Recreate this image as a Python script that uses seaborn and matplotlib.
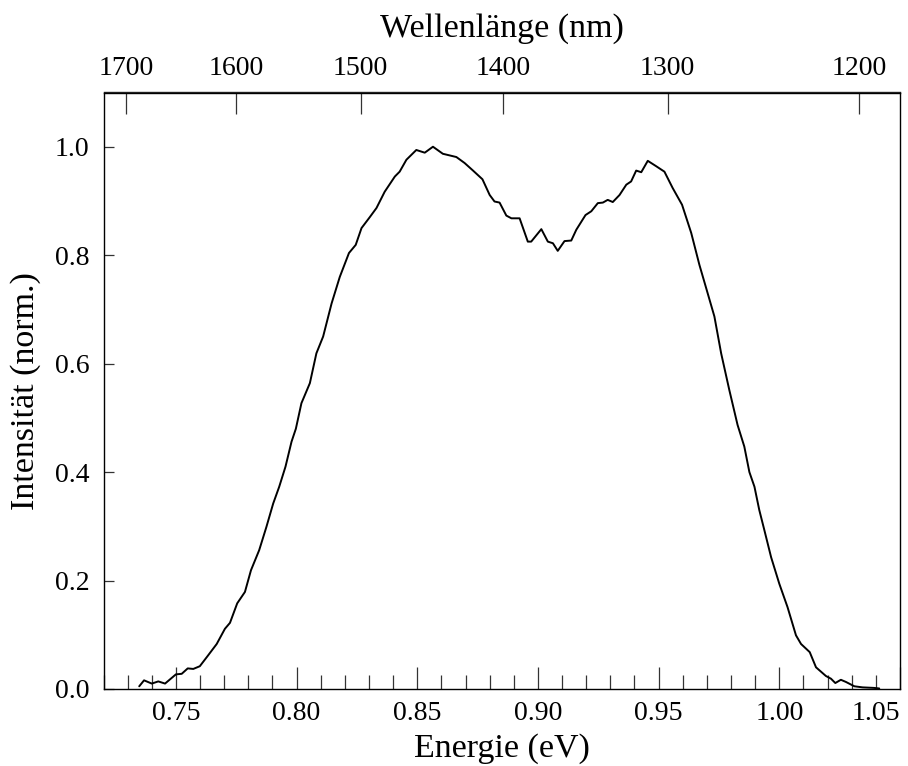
import numpy as np
import pandas as pd
import matplotlib
matplotlib.use("Agg")
import matplotlib.pyplot as plt
from matplotlib.ticker import MultipleLocator, FixedLocator, NullLocator
import seaborn as sns

# ---- data ----
energy_ev = [0.7348, 0.7368, 0.7400, 0.7427, 0.7455, 0.7500, 0.7524, 0.7549, 0.7572, 0.7599,
             0.7630, 0.7669, 0.7703, 0.7724, 0.7754, 0.7786, 0.7811, 0.7845, 0.7875, 0.7903,
             0.7928, 0.7954, 0.7979, 0.7997, 0.8020, 0.8055, 0.8082, 0.8110, 0.8145, 0.8179,
             0.8217, 0.8245, 0.8269, 0.8303, 0.8331, 0.8365, 0.8407, 0.8427, 0.8455, 0.8496,
             0.8531, 0.8565, 0.8606, 0.8662, 0.8696, 0.8731, 0.8770, 0.8800, 0.8820, 0.8841,
             0.8869, 0.8890, 0.8924, 0.8958, 0.8972, 0.9014, 0.9041, 0.9062, 0.9082, 0.9110,
             0.9138, 0.9159, 0.9197, 0.9221, 0.9248, 0.9269, 0.9289, 0.9310, 0.9338, 0.9366,
             0.9386, 0.9407, 0.9428, 0.9455, 0.9490, 0.9524, 0.9558, 0.9597, 0.9635, 0.9669,
             0.9703, 0.9731, 0.9759, 0.9793, 0.9827, 0.9855, 0.9876, 0.9897, 0.9917, 0.9938,
             0.9966, 1.0000, 1.0034, 1.0069, 1.0090, 1.0126, 1.0152, 1.0193, 1.0214, 1.0232,
             1.0255, 1.0276, 1.0311, 1.0345, 1.0393, 1.0414]
intensity = [0.005, 0.016, 0.010, 0.014, 0.010, 0.027, 0.028, 0.038, 0.037, 0.042,
             0.060, 0.083, 0.111, 0.122, 0.158, 0.179, 0.219, 0.256, 0.299, 0.342,
             0.373, 0.410, 0.456, 0.480, 0.527, 0.564, 0.619, 0.650, 0.711, 0.760,
             0.804, 0.819, 0.850, 0.870, 0.887, 0.917, 0.945, 0.954, 0.976, 0.994,
             0.989, 1.000, 0.987, 0.981, 0.970, 0.956, 0.940, 0.911, 0.899, 0.897,
             0.873, 0.868, 0.868, 0.825, 0.825, 0.848, 0.825, 0.822, 0.808, 0.826,
             0.827, 0.847, 0.874, 0.881, 0.896, 0.897, 0.902, 0.898, 0.911, 0.930,
             0.936, 0.956, 0.953, 0.974, 0.964, 0.954, 0.924, 0.893, 0.841, 0.782,
             0.730, 0.687, 0.619, 0.551, 0.487, 0.447, 0.400, 0.373, 0.330, 0.293,
             0.243, 0.194, 0.151, 0.099, 0.083, 0.068, 0.040, 0.024, 0.019, 0.011,
             0.017, 0.013, 0.005, 0.003, 0.002, 0.001]
x_ticks = [0.75, 0.80, 0.85, 0.90, 0.95, 1.00, 1.05]
y_ticks = [0.0, 0.2, 0.4, 0.6, 0.8, 1.0]
wavelength_ticks = [1700, 1600, 1500, 1400, 1300, 1200]
x_label = "Energie (eV)"
y_label = "Intensität (norm.)"
top_label = "Wellenlänge (nm)"

df = pd.DataFrame({"E": energy_ev, "I": intensity})

sns.set_theme(style="ticks")
plt.rcParams["font.family"] = ["Liberation Serif", "DejaVu Serif"]
plt.rcParams["mathtext.fontset"] = "stix"

fig = plt.figure(figsize=(9.08, 7.66), dpi=100)
ax = fig.add_axes([103.5 / 908, 1 - 689 / 766, (900 - 103.5) / 908, (689 - 92.5) / 766])

sns.lineplot(data=df, x="E", y="I", ax=ax, color="black", linewidth=1.4, sort=False)

ax.set_xlim(0.72, 1.05)
ax.set_ylim(0.0, 1.1)
ax.set_xticks(x_ticks)
ax.set_xticklabels([f"{v:.2f}" for v in x_ticks])
ax.xaxis.set_minor_locator(MultipleLocator(0.01))
ax.set_yticks(y_ticks)
ax.set_yticklabels([f"{v:.1f}" for v in y_ticks])
ax.yaxis.set_minor_locator(NullLocator())

for s in ax.spines.values():
    s.set_visible(True)
    s.set_linewidth(1.0)
    s.set_color("black")

tick_col = "#333333"
ax.tick_params(axis="x", which="major", direction="in", length=16, width=0.9,
               color=tick_col, labelsize=20, pad=9, top=False, labelcolor="black")
ax.tick_params(axis="x", which="minor", direction="in", length=10, width=0.9,
               color=tick_col, top=False)
ax.tick_params(axis="y", which="major", direction="in", length=7, width=0.9,
               color=tick_col, labelsize=20, pad=10, right=False, labelcolor="black")

# last bottom label shifted inside the figure
labels = ax.get_xticklabels()
labels[-1].set_horizontalalignment("right")

ax.set_xlabel(x_label, fontsize=24.5, labelpad=5, color="black")
ax.set_ylabel(y_label, fontsize=24.5, labelpad=10, color="black")


def e_to_nm(e):
    e = np.asarray(e, dtype=float)
    with np.errstate(divide="ignore", invalid="ignore"):
        return 1239.84 / e


secax = ax.secondary_xaxis("top", functions=(e_to_nm, e_to_nm))
secax.xaxis.set_major_locator(FixedLocator(wavelength_ticks))
secax.xaxis.set_minor_locator(NullLocator())
secax.tick_params(axis="x", which="major", direction="in", length=16, width=0.9,
                  color=tick_col, labelsize=20, pad=8, labelcolor="black")
secax.set_xticklabels([str(v) for v in wavelength_ticks])
secax.set_xlabel(top_label, fontsize=24.5, labelpad=14, color="black")
secax.spines["top"].set_linewidth(1.0)

fig.savefig("out.png", dpi=100)
